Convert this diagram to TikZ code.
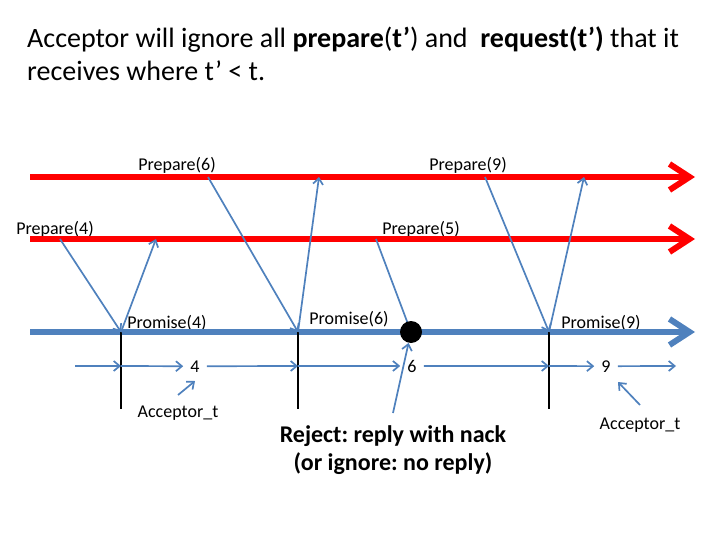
\documentclass[tikz,border=0pt]{standalone}
\usepackage{fontspec}
\setmainfont{Carlito}
\usetikzlibrary{arrows.meta}
\definecolor{pptblue}{RGB}{79,129,189}
\definecolor{pptred}{RGB}{255,0,0}
\frenchspacing
\begin{document}
\begin{tikzpicture}[x=1pt,y=-1pt,
    proposer/.style={draw=pptred,line width=6pt,-{Straight Barb[length=20pt,width=26pt]}},
    acceptor/.style={draw=pptblue,line width=6pt,-{Straight Barb[length=20pt,width=26pt]}},
    msg/.style={draw=pptblue,line width=1.7pt,-{Straight Barb[length=6pt,width=10pt]}},
    tick/.style={draw=black,line width=2pt},
    lbl/.style={font=\fontsize{18}{20}\selectfont,inner sep=0pt,anchor=base},
    num/.style={lbl,inner xsep=7pt}]
  \useasboundingbox (0,0) rectangle (720,540);
  \node[anchor=base west,inner sep=0pt,font=\fontsize{28}{33}\selectfont] (title1) at (27,48)
    {Acceptor will ignore all \textbf{prepare}(\textbf{t’}) and \ \textbf{request(t’)} that it};
  \node[anchor=base west,inner sep=0pt,font=\fontsize{28}{33}\selectfont] (title2) at (27,81)
    {receives where t’ < t.};
  \path
    (30,177) coordinate (r1a)
    (695,177) coordinate (r1b)
    (30,239) coordinate (r2a)
    (695,239) coordinate (r2b)
    (30,332) coordinate (ba)
    (695,332) coordinate (bb)
    (121,332) coordinate (e4)
    (298,332) coordinate (e6)
    (549,332) coordinate (e9)
    (411,332) coordinate (d)
    (121,409) coordinate (v4)
    (298,409) coordinate (v6)
    (549,409) coordinate (v9)
    (60,239) coordinate (p4)
    (208,177) coordinate (p6)
    (376,239) coordinate (p5)
    (485,177) coordinate (p9)
    (156,239) coordinate (q4)
    (319,177) coordinate (q6)
    (584,177) coordinate (q9)
    (75,366) coordinate (s0)
    (121,366) coordinate (s4)
    (298,366) coordinate (s6)
    (549,366) coordinate (s9)
    (676,366) coordinate (s10)
    (178,395) coordinate (a4)
    (195,381) coordinate (b4)
    (640,405) coordinate (a9)
    (618,382) coordinate (b9)
    (393,413) coordinate (rj);
  \node[num] (n4) at (195,372) {4};
  \node[num] (n6) at (412,372) {6};
  \node[num] (n9) at (606,372) {9};
  \node[lbl] (acc4) at (178,417) {Acceptor\_t};
  \node[lbl] (acc9) at (640,429) {Acceptor\_t};
  \node[lbl] (lp4) at (55,234) {Prepare(4)};
  \node[lbl] (lp6) at (177,171) {Prepare(6)};
  \node[lbl] (lp5) at (421,234) {Prepare(5)};
  \node[lbl] (lp9) at (468,171) {Prepare(9)};
  \node[lbl] (lq4) at (167,328) {Promise(4)};
  \node[lbl] (lq6) at (349,324) {Promise(6)};
  \node[lbl] (lq9) at (601,328) {Promise(9)};
  \node[anchor=base,inner sep=0pt,align=center,font=\fontsize{24}{28}\selectfont\bfseries] (reject) at (393,470)
    {Reject: reply with nack\\(or ignore: no reply)};
  % process lines
  \draw[proposer] (r1a) -- (r1b);
  \draw[proposer] (r2a) -- (r2b);
  \draw[acceptor] (ba) -- (bb);
  \begin{scope}[tick]
    \draw (e4) -- (v4);
    \draw (e6) -- (v6);
    \draw (e9) -- (v9);
  \end{scope}
  % messages
  \begin{scope}[msg]
    \draw (p4) -- (e4);
    \draw (e4) -- (q4);
    \draw (p6) -- (e6);
    \draw (e6) -- (q6);
    \draw (p9) -- (e9);
    \draw (e9) -- (q9);
    \draw[-] (p5) -- (d);
    \draw (s0) -- (s4);
    \draw (s4) -- (n4.west);
    \draw (n4.east) -- (s6);
    \draw (s6) -- (n6.west);
    \draw (n6.east) -- (s9);
    \draw (s9) -- (n9.west);
    \draw (n9.east) -- (s10);
    \draw (a4) -- (b4);
    \draw (a9) -- (b9);
  \end{scope}
  \node[circle,fill=black,inner sep=0pt,minimum size=22pt] (dot) at (d) {};
  \draw[msg] (rj) -- (dot);
\end{tikzpicture}
\end{document}
